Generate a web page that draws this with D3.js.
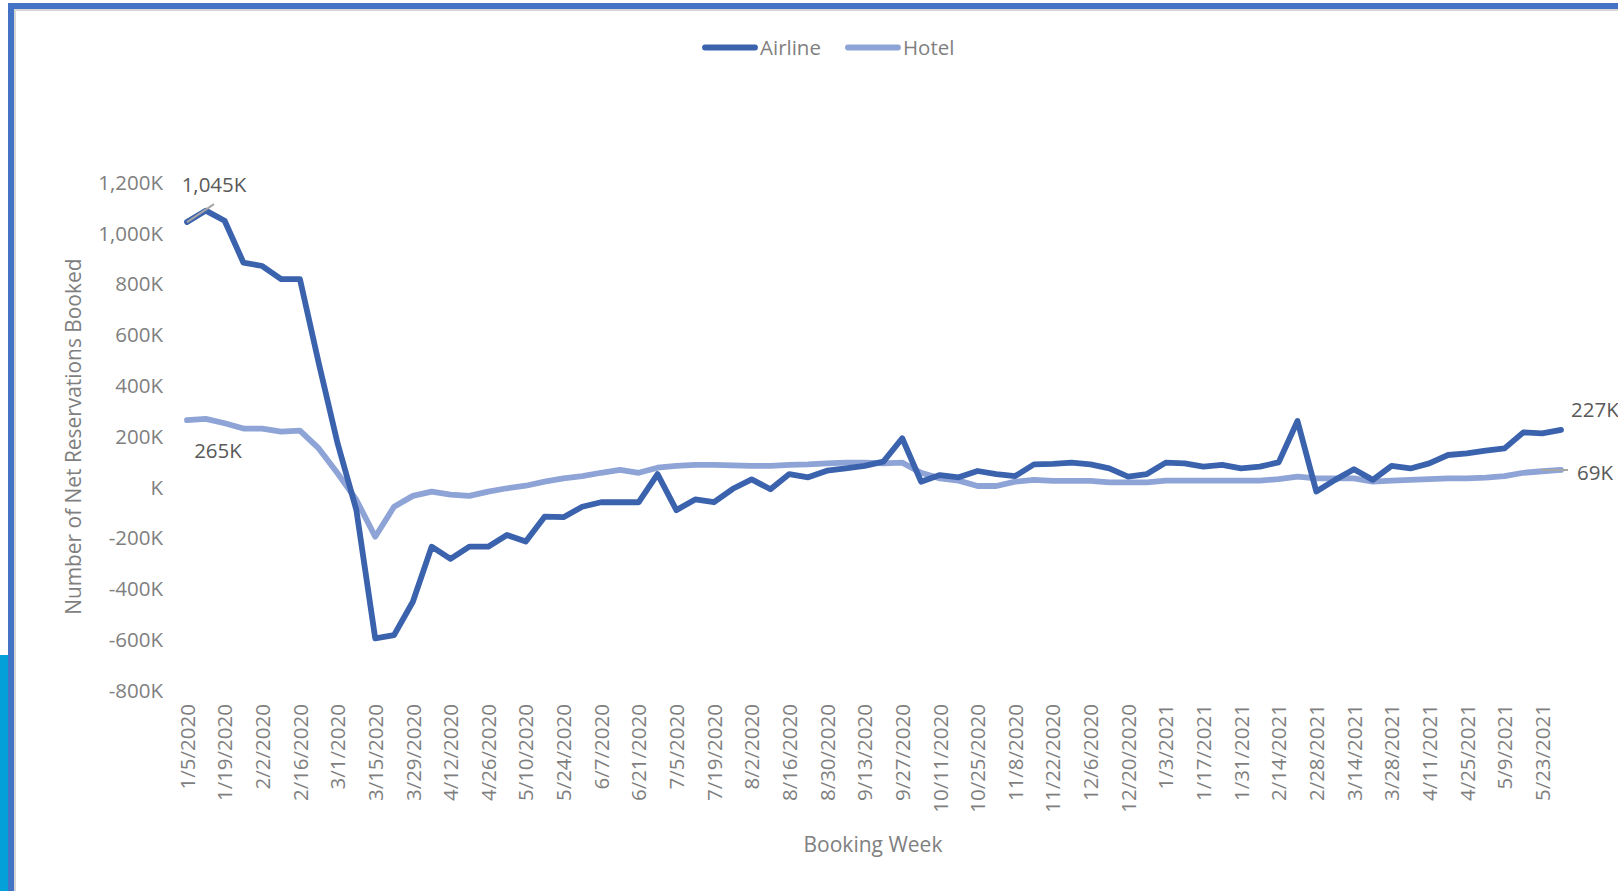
<!DOCTYPE html>
<html>
<head>
<meta charset="utf-8">
<script src="https://cdn.jsdelivr.net/npm/d3@7"></script>
<style>
  body { margin: 0; background: #ffffff; }
  svg { display: block; }
  text { font-family: "Open Sans", "Noto Sans", sans-serif; }
</style>
</head>
<body>
<svg id="chart" width="1618" height="891"></svg>
<script>
// Booking weeks (week starting), 2020-01-05 through 2021-05-30
const weeks = [
  "1/5/2020","1/12/2020","1/19/2020","1/26/2020","2/2/2020","2/9/2020","2/16/2020","2/23/2020",
  "3/1/2020","3/8/2020","3/15/2020","3/22/2020","3/29/2020","4/5/2020","4/12/2020","4/19/2020",
  "4/26/2020","5/3/2020","5/10/2020","5/17/2020","5/24/2020","5/31/2020","6/7/2020","6/14/2020",
  "6/21/2020","6/28/2020","7/5/2020","7/12/2020","7/19/2020","7/26/2020","8/2/2020","8/9/2020",
  "8/16/2020","8/23/2020","8/30/2020","9/6/2020","9/13/2020","9/20/2020","9/27/2020","10/4/2020",
  "10/11/2020","10/18/2020","10/25/2020","11/1/2020","11/8/2020","11/15/2020","11/22/2020","11/29/2020",
  "12/6/2020","12/13/2020","12/20/2020","12/27/2020","1/3/2021","1/10/2021","1/17/2021","1/24/2021",
  "1/31/2021","2/7/2021","2/14/2021","2/21/2021","2/28/2021","3/7/2021","3/14/2021","3/21/2021",
  "3/28/2021","4/4/2021","4/11/2021","4/18/2021","4/25/2021","5/2/2021","5/9/2021","5/16/2021",
  "5/23/2021","5/30/2021"
];

// Net reservations booked per week, in thousands
const airline = [
  1045, 1090, 1050, 885, 872, 820, 820, 490,
  174, -89, -594, -581, -450, -233, -281, -233,
  -233, -187, -213, -115, -117, -76, -58, -58,
  -58, 53, -89, -47, -58, -5, 32, -7,
  53, 40, 66, 75, 85, 102, 194, 23,
  49, 40, 65, 53, 45, 91, 93, 98,
  91, 75, 43, 53, 98, 95, 82, 89,
  75, 82, 99, 262, -16, 30, 72, 30,
  85, 75, 95, 128, 134, 145, 154, 217,
  213, 227
];

const hotel = [
  265, 270, 253, 232, 232, 220, 224, 154,
  56, -49, -194, -76, -33, -16, -28, -33,
  -16, -3, 7, 23, 36, 45, 58, 69,
  58, 78, 85, 89, 89, 87, 85, 85,
  89, 91, 95, 98, 98, 95, 98, 58,
  36, 27, 6, 6, 23, 30, 26, 26,
  26, 20, 20, 20, 27, 27, 27, 27,
  27, 27, 33, 43, 36, 36, 36, 23,
  27, 30, 33, 36, 36, 39, 45, 58,
  64, 69
];

const yTicks = [-800, -600, -400, -200, 0, 200, 400, 600, 800, 1000, 1200];
const xTickLabels = weeks.filter((d, i) => i % 2 === 0);

const series = [
  { name: "Airline", values: airline, color: "#3B62AD" },
  { name: "Hotel",   values: hotel,   color: "#8EA3D6" }
];

const svg = d3.select("#chart");
const W = 1618, H = 891;

// window frame
svg.append("rect").attr("x", 0).attr("y", 0).attr("width", W).attr("height", H).attr("fill", "#ffffff");
svg.append("rect").attr("x", 0).attr("y", 655).attr("width", 8).attr("height", H - 655).attr("fill", "#03A0D9");
svg.append("rect").attr("x", 8).attr("y", 9).attr("width", W - 8).attr("height", 2).attr("fill", "#d6d6d6");
svg.append("rect").attr("x", 14).attr("y", 9).attr("width", 2).attr("height", H - 9).attr("fill", "#d6d6d6");
svg.append("rect").attr("x", 8).attr("y", 3).attr("width", W - 8).attr("height", 6).attr("fill", "#4472C4");
svg.append("rect").attr("x", 8).attr("y", 3).attr("width", 6).attr("height", H - 3).attr("fill", "#4472C4");

// scales
const x = d3.scalePoint().domain(weeks).range([187, 1561]);
const y = d3.scaleLinear().domain([-800, 1200]).range([690.7, 182.7]);

const tickGray = "#7f7f7f";
const labelGray = "#595959";
const fmtK = v => (v === 0 ? "" : d3.format(",")(v).replace("\u2212", "-")) + "K";

// y axis
const yAxis = svg.append("g")
  .attr("transform", "translate(163,0)")
  .call(d3.axisLeft(y).tickValues(yTicks).tickSize(0).tickPadding(0).tickFormat(fmtK));
yAxis.select(".domain").remove();
yAxis.selectAll("text").attr("fill", tickGray).style("font-size", "20.5px");

// x axis with rotated labels
const xAxis = svg.append("g")
  .attr("transform", "translate(0,704)")
  .call(d3.axisBottom(x).tickValues(xTickLabels).tickSize(0).tickPadding(0));
xAxis.select(".domain").remove();
xAxis.selectAll("text")
  .attr("fill", tickGray)
  .style("font-size", "20.5px")
  .attr("text-anchor", "end")
  .attr("x", 0).attr("y", 0).attr("dy", "0.35em")
  .attr("transform", "rotate(-90)");

// axis titles
svg.append("text")
  .attr("x", 873).attr("y", 845).attr("dy", "0.35em")
  .attr("text-anchor", "middle").attr("fill", tickGray).style("font-size", "21px")
  .text("Booking Week");

svg.append("text")
  .attr("transform", `translate(74,${(y(1200) + y(-800)) / 2}) rotate(-90)`)
  .attr("dy", "0.35em")
  .attr("text-anchor", "middle").attr("fill", tickGray).style("font-size", "20.9px")
  .text("Number of Net Reservations Booked");

// series lines
const line = d3.line().x((d, i) => x(weeks[i])).y(d => y(d));
series.slice().reverse().forEach(s => {
  svg.append("path")
    .datum(s.values)
    .attr("d", line)
    .attr("fill", "none")
    .attr("stroke", s.color)
    .attr("stroke-width", 5.8)
    .attr("stroke-linejoin", "round")
    .attr("stroke-linecap", "round");
});

// data labels on first and last weeks
const last = weeks.length - 1;
const leader = "#a6a6a6";

const a0x = x(weeks[0]), a0y = y(airline[0]);
svg.append("line")
  .attr("x1", a0x).attr("y1", a0y).attr("x2", a0x + 27).attr("y2", a0y - 18)
  .attr("stroke", leader).attr("stroke-width", 2);
svg.append("text")
  .attr("x", a0x + 27).attr("y", a0y - 37).attr("dy", "0.35em")
  .attr("text-anchor", "middle").attr("fill", labelGray).style("font-size", "20.5px")
  .text(fmtK(airline[0]));

const h0x = x(weeks[0]), h0y = y(hotel[0]);
svg.append("text")
  .attr("x", h0x + 31).attr("y", h0y + 31).attr("dy", "0.35em")
  .attr("text-anchor", "middle").attr("fill", labelGray).style("font-size", "20.5px")
  .text(fmtK(hotel[0]));

const aLx = x(weeks[last]), aLy = y(airline[last]);
svg.append("text")
  .attr("x", aLx + 10).attr("y", aLy - 20).attr("dy", "0.35em")
  .attr("text-anchor", "start").attr("fill", labelGray).style("font-size", "20.5px")
  .text(fmtK(airline[last]));

const hLx = x(weeks[last]), hLy = y(hotel[last]);
svg.append("line")
  .attr("x1", hLx - 20).attr("y1", hLy).attr("x2", hLx + 7).attr("y2", hLy)
  .attr("stroke", leader).attr("stroke-width", 2);
svg.append("text")
  .attr("x", hLx + 16).attr("y", hLy + 3).attr("dy", "0.35em")
  .attr("text-anchor", "start").attr("fill", labelGray).style("font-size", "20.5px")
  .text(fmtK(hotel[last]));

// legend
const legend = svg.append("g").attr("transform", "translate(703,47.5)");
let lx = 0;
series.forEach(s => {
  const g = legend.append("g").attr("transform", `translate(${lx},0)`);
  g.append("line").attr("x1", 2).attr("x2", 52).attr("y1", 0).attr("y2", 0)
    .attr("stroke", s.color).attr("stroke-width", 5.8).attr("stroke-linecap", "round");
  const t = g.append("text").attr("x", 57).attr("y", 0).attr("dy", "0.35em")
    .attr("fill", tickGray).style("font-size", "20.5px").text(s.name);
  lx += 57 + t.node().getComputedTextLength() + 25;
});
</script>
</body>
</html>
